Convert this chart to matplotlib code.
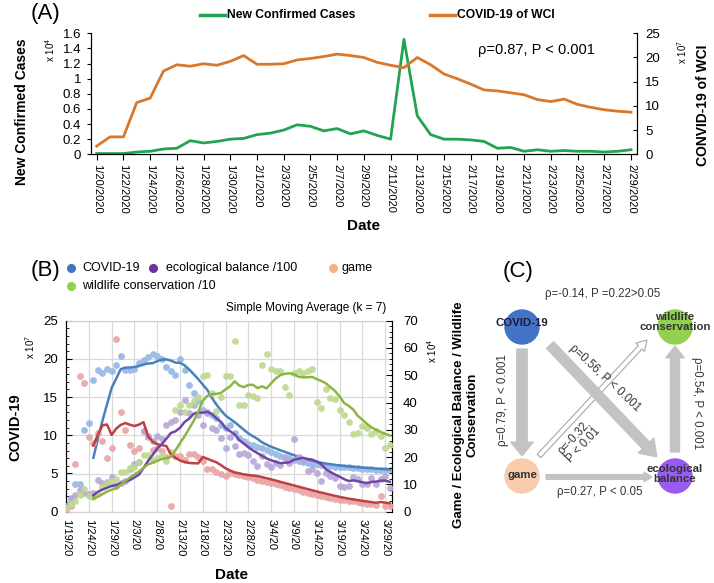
import numpy as np
import pandas as pd
import matplotlib
matplotlib.use("Agg")
import matplotlib.pyplot as plt
from matplotlib.lines import Line2D
from matplotlib.patches import Circle, FancyArrow
from matplotlib.ticker import MultipleLocator

plt.rcParams['font.family'] = ['Liberation Sans', 'DejaVu Sans']
plt.rcParams['mathtext.fontset'] = 'custom'
plt.rcParams['mathtext.rm'] = 'Liberation Sans'
plt.rcParams['axes.linewidth'] = 0.8

W, H = 714, 583

# ---------------- data (A): 1/20/2020 - 2/29/2020 ----------------
a_dates = pd.date_range('2020-01-20', '2020-02-29')
new_cases = [0.01, 0.01, 0.01, 0.03, 0.04, 0.07, 0.08, 0.18, 0.15, 0.17, 0.2,
             0.21, 0.26, 0.28, 0.32, 0.39, 0.37, 0.31, 0.34, 0.27, 0.31, 0.25,
             0.2, 1.52, 0.51, 0.26, 0.2, 0.2, 0.19, 0.17, 0.08, 0.09, 0.04,
             0.06, 0.04, 0.05, 0.04, 0.04, 0.03, 0.04, 0.06]          # x 10^4
wci = [1.7, 3.6, 3.6, 10.7, 11.6, 17.2, 18.5, 18.2, 18.7, 18.4, 19.2, 20.4,
       18.6, 18.6, 18.7, 19.5, 19.8, 20.2, 20.7, 20.4, 20.0, 19.0, 18.4, 17.9,
       20.0, 18.5, 16.6, 15.6, 14.5, 13.3, 13.1, 12.7, 12.3, 11.3, 10.9, 11.4,
       10.3, 9.7, 9.2, 8.9, 8.7]                                      # x 10^7

# ---------------- data (B): 1/19/2020 - 3/30/2020 ----------------
b_dates = pd.date_range('2020-01-19', periods=72)
covid = [1.0, 1.7, 3.6, 3.6, 10.7, 11.6, 17.2, 18.5, 18.2, 18.7, 18.4, 19.2,
         20.4, 18.6, 18.6, 18.7, 19.5, 19.8, 20.2, 20.7, 20.4, 20.0, 19.0, 18.4,
         17.9, 20.0, 18.5, 16.6, 15.6, 14.5, 13.3, 13.1, 12.7, 12.3, 11.3, 10.9,
         11.4, 10.3, 9.7, 9.2, 8.9, 8.7, 8.5, 8.3, 8.1, 7.8, 7.6, 7.3, 7.2, 7.0,
         6.8, 6.6, 6.5, 6.4, 6.3, 6.2, 6.1, 6.0, 6.0, 5.9, 5.9, 5.8, 5.8, 5.7,
         5.7, 5.6, 5.6, 5.6, 5.5, 5.5, 5.5, 5.5]                       # x 10^7
game = [0.8, 2.0, 17.6, 49.8, 47.3, 27.2, 25.2, 28.8, 25.8, 19.6, 23.2, 63.3,
        36.7, 30.0, 24.6, 22.4, 23.2, 29.4, 27.4, 22.7, 23.5, 22.1, 20.2, 2.0,
        20.4, 20.4, 19.0, 21.0, 21.3, 19.9, 18.5, 15.7, 15.7, 14.6, 13.7, 13.2,
        14.0, 13.7, 13.4, 13.2, 12.9, 12.3, 11.8, 11.3, 10.9, 10.5, 10.1, 9.7,
        9.2, 8.7, 8.2, 7.8, 7.4, 7.0, 6.6, 6.2, 5.8, 5.4, 5.0, 4.7, 4.4, 4.2,
        4.0, 3.8, 3.6, 3.2, 3.0, 2.8, 2.6, 5.8, 2.2, 2.0]              # x 10^4
eco = [2.2, 5.0, 6.2, 8.1, 7.0, 6.4, 7.0, 11.5, 10.6, 10.9, 12.6, 9.5, 10.6,
       11.2, 15.7, 17.4, 18.2, 29.4, 27.7, 26.0, 27.7, 26.6, 31.6, 33.0, 33.6,
       36.7, 40.9, 36.1, 39.2, 35.6, 31.9, 36.1, 30.5, 30.0, 26.9, 23.5, 27.4,
       24.1, 21.3, 21.6, 20.7, 18.5, 16.7, 20.3, 17.5, 16.5, 18.0, 17.0, 19.5,
       18.0, 26.8, 20.0, 19.0, 14.9, 15.5, 14.3, 11.2, 14.0, 13.0, 12.5, 9.4,
       9.1, 9.5, 12.8, 12.0, 10.2, 10.2, 12.5, 10.0, 12.0, 13.0, 8.8]  # x 10^4 (/100)
wildlife = [1.4, 2.8, 3.9, 6.2, 8.4, 5.6, 5.3, 6.4, 9.2, 10.6, 10.9, 12.0, 14.6,
            14.6, 16.0, 16.5, 18.2, 20.7, 20.7, 18.8, 19.6, 20.7, 18.5, 21.8,
            37.2, 39.2, 36.4, 39.2, 40.6, 42.0, 49.8, 50.1, 43.4, 37.0, 42.0,
            49.8, 49.6, 62.7, 39.2, 39.2, 42.8, 42.3, 41.5, 53.8, 57.7, 52.3,
            51.4, 51.4, 45.7, 42.9, 51.0, 51.4, 51.0, 51.4, 52.4, 40.1, 38.0,
            45.0, 41.5, 41.3, 37.4, 35.6, 32.9, 28.3, 28.9, 31.5, 30.7, 28.3,
            29.5, 27.6, 23.4, 24.4]                                   # x 10^4 (/10)

fig = plt.figure(figsize=(W / 100, H / 100), dpi=100)


def fx(x):
    return x / W


def fy(y):
    return 1 - y / H


def ftext(x, y, s, **kw):
    kw.setdefault('ha', 'center')
    kw.setdefault('va', 'center')
    fig.text(fx(x), fy(y), s, **kw)


def box(l, t, r, b):
    return [fx(l), fy(b), (r - l) / W, (b - t) / H]


def fig_line(x0, x1, y, color):
    fig.add_artist(Line2D([fx(x0), fx(x1)], [fy(y), fy(y)], color=color, lw=2.5,
                          transform=fig.transFigure))


def fig_dot(x, y, color):
    fig.add_artist(Line2D([fx(x)], [fy(y)], marker='o', ms=5.5, color=color,
                          mec=color, transform=fig.transFigure))


# ======================= (A) =======================
GREEN, ORANGE = '#22a352', '#d9782b'
ax = fig.add_axes(box(90.7, 33.3, 637, 154.3))
xa = np.arange(len(a_dates))
ax.plot(xa, new_cases, color=GREEN, lw=2)
ax.set_xlim(-0.45, len(xa) - 0.55)
ax.set_ylim(0, 1.6)
yt = np.round(np.arange(0, 1.61, 0.2), 1)
ax.set_yticks(yt)
ax.set_yticklabels([f'{v:g}' for v in yt], fontsize=9.5)
ax.set_xticks(xa[::2])
ax.set_xticklabels([f'{d.month}/{d.day}/{d.year}' for d in a_dates[::2]],
                   rotation=-90, fontsize=8)
ax.tick_params(axis='y', direction='out', length=3, pad=4)
ax.tick_params(axis='x', direction='out', length=4, pad=3)
ax.spines['top'].set_visible(False)

axr = ax.twinx()
axr.plot(xa, wci, color=ORANGE, lw=2)
axr.set_ylim(0, 25)
axr.set_yticks(range(0, 26, 5))
axr.tick_params(axis='y', direction='in', length=3, pad=6, labelsize=9.5)
axr.spines['top'].set_visible(False)

ftext(46, 14, '(A)', fontsize=16)
fig_line(200, 225, 15, GREEN)
ftext(227, 15, 'New Confirmed Cases', ha='left', fontsize=8.7, fontweight='bold')
fig_line(430, 455, 15, ORANGE)
ftext(457, 15, 'COVID-19 of WCI', ha='left', fontsize=8.7, fontweight='bold')
ftext(22, 112, 'New Confirmed Cases', rotation=90, fontsize=10, fontweight='bold')
ftext(50, 50, r'x 10$^{4}$', rotation=90, fontsize=7)
ftext(703, 105, 'CONVID-19 of WCI', rotation=90, fontsize=10, fontweight='bold')
ftext(682, 52, r'x 10$^{7}$', rotation=90, fontsize=7)
ftext(364, 226, 'Date', fontsize=11, fontweight='bold')
ftext(536, 50, 'ρ=0.87, P < 0.001', fontsize=10.5)

# ======================= (B) =======================
series_b = [
    # values, dot colour, line colour
    (game, '#e8a3a3', '#bf4040'),
    (eco, '#b8a6d9', '#7046a5'),
    (wildlife, '#bed98f', '#8cb545'),
]
bx = fig.add_axes(box(66, 320.7, 392, 511.7))
xb = np.arange(len(b_dates))
bx.scatter(xb, covid, s=24, color='#9dbde6', linewidths=0, zorder=3)
bx.plot(xb, pd.Series(covid).rolling(7).mean(), color='#4a7fc0', lw=1.8, zorder=4)
bx.set_xlim(0, 71.5)
bx.set_ylim(0, 25)
bx.set_yticks(range(0, 26, 5))
bx.yaxis.set_minor_locator(MultipleLocator(1))
bx.set_xticks(xb[::5])
bx.set_xticklabels([f'{d.month}/{d.day}/{d.year % 100}' for d in b_dates[::5]],
                   rotation=-90, fontsize=8)
bx.grid(True, color='#d9d9d9', lw=0.9)
bx.set_axisbelow(True)
bx.tick_params(axis='y', which='both', direction='in', labelsize=9.5, pad=6)
bx.tick_params(axis='y', which='major', length=4)
bx.tick_params(axis='y', which='minor', length=2.5)
bx.tick_params(axis='x', length=0, pad=5)
for s in ('top', 'bottom'):
    bx.spines[s].set_color('#d0d0d0')

bx2 = bx.twinx()
for vals, dc, lc in series_b:
    bx2.scatter(xb, vals, s=24, color=dc, linewidths=0, alpha=0.9, zorder=3)
for vals, dc, lc in series_b:
    bx2.plot(xb, pd.Series(vals).rolling(7).mean(), color=lc, lw=1.8, zorder=4)
bx2.set_ylim(0, 70)
bx2.set_yticks(range(0, 71, 10))
bx2.yaxis.set_minor_locator(MultipleLocator(2))
bx2.tick_params(axis='y', which='both', direction='in', labelsize=9.5, pad=8)
bx2.tick_params(axis='y', which='major', length=4)
bx2.tick_params(axis='y', which='minor', length=2.5)
for s in ('top', 'bottom'):
    bx2.spines[s].set_visible(False)

ftext(46, 270, '(B)', fontsize=16)
fig_dot(71, 268, '#4472c4')
ftext(82, 268, 'COVID-19', ha='left', fontsize=9)
fig_dot(153, 268, '#7030a0')
ftext(166, 268, 'ecological balance /100', ha='left', fontsize=9)
fig_dot(333, 268, '#f4b183')
ftext(342, 268, 'game', ha='left', fontsize=9)
fig_dot(71, 286, '#92d050')
ftext(82, 286, 'wildlife conservation /10', ha='left', fontsize=9)
ftext(306, 308, 'Simple Moving Average (k = 7)', fontsize=8.5)
ftext(15, 427, 'COVID-19', rotation=90, fontsize=10.5, fontweight='bold')
ftext(30, 347, r'x 10$^{7}$', rotation=90, fontsize=7)
ftext(432, 351, r'x 10$^{4}$', rotation=90, fontsize=7)
ftext(466, 415, 'Game / Ecological Balance / Wildlife\nConservation', rotation=90,
      fontsize=9.5, fontweight='bold', linespacing=1.15, multialignment='center')
ftext(232, 575, 'Date', fontsize=11, fontweight='bold')

# ======================= (C) =======================
cx = fig.add_axes(box(488, 262, 714, 583))
cx.set_xlim(488, 714)
cx.set_ylim(583, 262)
cx.axis('off')

GRAY = '#c3c3c3'
nodes = {
    'covid': ((522, 327), '#4472c4'),
    'wild': ((675, 327), '#92d050'),
    'game': ((522, 476), '#f8cbad'),
    'eco': ((675, 476), '#9a5cf0'),
}


def arrow(x0, y0, x1, y1, w, hw, hl, fc=GRAY, ec=GRAY, z=2):
    cx.add_patch(FancyArrow(x0, y0, x1 - x0, y1 - y0, width=w, head_width=hw,
                            head_length=hl, length_includes_head=True,
                            fc=fc, ec=ec, lw=0.8, zorder=z))


arrow(539, 456, 647, 340, 5, 12, 10, fc='white', ec='#a8a8a8', z=2)
arrow(550, 345, 657, 457, 10, 22, 16, z=3)
arrow(522, 349, 522, 456, 10.6, 23, 14, z=3)
arrow(675, 452, 675, 346, 9.3, 19, 12, z=3)
arrow(546, 477, 652, 477, 5, 10, 8, z=3)

for xy, col in nodes.values():
    cx.add_patch(Circle(xy, 17, color=col, zorder=4))

cfont = dict(fontsize=8.3, color='#333333')
nfont = dict(ha='center', va='center', fontsize=8.2, fontweight='bold',
             linespacing=1.0, zorder=5)
cx.text(522, 323, 'COVID-19', color='#1c1c3c', **nfont)
cx.text(675, 322, 'wildlife\nconservation', color='#333333', **nfont)
cx.text(522, 475, 'game', color='#333333', **nfont)
cx.text(675, 474, 'ecological\nbalance', color='#333333', **nfont)

cx.text(603, 294, 'ρ=-0.14, P =0.22>0.05', ha='center', va='center', **cfont)
cx.text(503, 400, 'ρ=0.79, P < 0.001', ha='center', va='center', rotation=90, **cfont)
cx.text(605, 378, 'ρ=0.56, P < 0.001', ha='center', va='center', rotation=-43,
        zorder=6, **cfont)
cx.text(579, 441, 'ρ=-0.32,\nP < 0.01', ha='center', va='center', rotation=47,
        linespacing=1.0, zorder=6, **cfont)
cx.text(697, 403, 'ρ=0.54, P < 0.001', ha='center', va='center', rotation=-90, **cfont)
cx.text(600, 492, 'ρ=0.27, P < 0.05', ha='center', va='center', **cfont)

ftext(518, 272, '(C)', fontsize=16)

fig.savefig('out.png', dpi=100)
